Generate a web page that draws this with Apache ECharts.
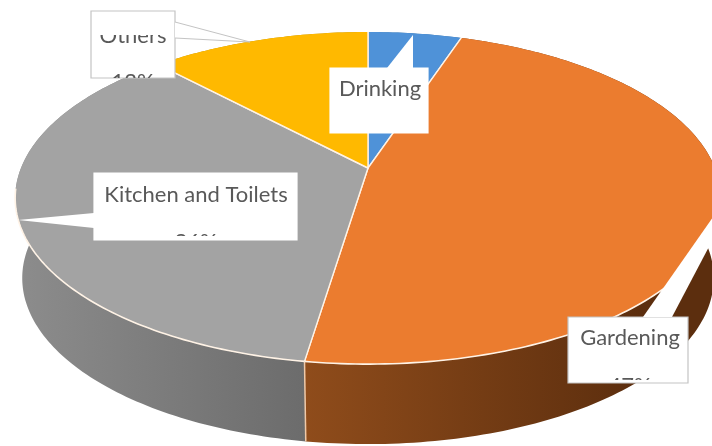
<!DOCTYPE html>
<html>
<head>
<meta charset="utf-8">
<style>html,body{margin:0;padding:0;background:#fff}#chart{width:712px;height:446px}</style>
<script src="https://cdn.jsdelivr.net/npm/echarts@6/dist/echarts.min.js"></script>
</head>
<body>
<div id="chart"></div>
<script>
// Household water use, clockwise from twelve o'clock.
const categories = ['Drinking', 'Gardening', 'Kitchen and Toilets', 'Others'];
const shares = [5.1, 47.3, 35.6, 12];

const topColors = ['#4f92d8', '#eb7c2f', '#a3a3a3', '#ffb900'];
const wallStops = [
  ['#3f76a8', '#3f76a8'],
  ['#8f4c1b', '#5c2e0e'],
  ['#8c8c8c', '#6c6c6c'],
  ['#b98c00', '#b98c00']
];
const wallRange = [
  [368, 470],
  [305, 640],
  [20, 305],
  [170, 370]
];

// Callout boxes: rectangle, pointer base on the rectangle, pointer tip, text rows.
// A text row is [centre x, centre y, visible top, visible bottom].
const callouts = [
  { box: [330, 68, 98, 65], base: [[387, 68], [413, 68]], tip: [413, 35], border: false, edge: false,
    name: [380, 89, 68, 133], value: null },
  { box: [568, 317, 120, 66], base: [[643, 317], [672, 317]], tip: [760, 150], border: true, edge: false,
    name: [630, 338, 317, 383], value: [630, 386, 378, 380] },
  { box: [94, 173, 203, 67], base: [[94, 213], [94, 228]], tip: [18, 220], border: false, edge: false,
    name: [196, 195, 173, 240], value: [196, 242, 234, 236] },
  { box: [91, 11, 84, 67], base: [[175, 22], [175, 38]], tip: [250, 42], border: true, edge: true,
    name: [133, 36, 35, 78], value: [133, 82, 74, 78] }
];

// Tilted disc: unit circle seen through a perspective divide, hub off the ellipse centre.
const disc = { cx: 368, hubY: 168, rx: 347, ry: 160.6, k: 0.181, depth: 80, baseScale: 0.98 };
const TAU = Math.PI * 2;
const rimLight = '#fff3e6';

function rimPoint(turn, lower) {
  const a = turn * TAU;
  const u = Math.sin(a), v = -Math.cos(a);
  const w = 1 - disc.k * v;
  const sx = lower ? disc.baseScale : 1;
  return [disc.cx + disc.rx * sx * u / w, disc.hubY + disc.ry * v / w + (lower ? disc.depth : 0)];
}
function arc(from, to, lower) {
  const n = Math.max(2, Math.ceil((to - from) * 360));
  const pts = [];
  for (let i = 0; i <= n; i++) pts.push(rimPoint(from + (to - from) * i / n, lower));
  return pts;
}
function sliceTurns(index, value) {
  const total = shares.reduce((s, x) => s + x, 0);
  const before = shares.slice(0, index).reduce((s, x) => s + x, 0);
  return [before / total, (before + value) / total];
}

function renderWall(params, api) {
  const i = params.dataIndex;
  const [from, to] = sliceTurns(i, api.value(0));
  const upper = arc(from, to, false);
  const lower = arc(from, to, true).reverse();
  return {
    type: 'polygon',
    shape: { points: upper.concat(lower) },
    style: {
      fill: {
        type: 'linear', global: true,
        x: wallRange[i][0], y: 0, x2: wallRange[i][1], y2: 0,
        colorStops: [{ offset: 0, color: wallStops[i][0] }, { offset: 1, color: wallStops[i][1] }]
      }
    }
  };
}
function renderSeam(params, api) {
  // Cream line where the two front wall segments meet.
  const i = params.dataIndex;
  const [, to] = sliceTurns(i, api.value(0));
  const a = rimPoint(to, false), b = rimPoint(to, true);
  if (categories[i] !== 'Gardening') return null;
  return {
    type: 'line',
    shape: { x1: a[0], y1: a[1], x2: b[0], y2: b[1] },
    style: { stroke: '#f0c9a8', lineWidth: 1.5 }
  };
}
function renderTop(params, api) {
  const i = params.dataIndex;
  const [from, to] = sliceTurns(i, api.value(0));
  const hub = [disc.cx, disc.hubY];
  const rim = arc(from, to, false);
  // Only the near half of the rim catches the light.
  const frontFrom = Math.max(from, 0.27), frontTo = Math.min(to, 0.73);
  const children = [
    { type: 'polygon', shape: { points: [hub].concat(rim) }, style: { fill: topColors[i] } },
    { type: 'polyline', shape: { points: [rim[rim.length - 1], hub, rim[0]] },
      style: { fill: null, stroke: rimLight, lineWidth: 1.4 } }
  ];
  if (frontTo > frontFrom) {
    children.push({ type: 'polyline', shape: { points: arc(frontFrom, frontTo, false) },
      style: { fill: null, stroke: rimLight, lineWidth: 1.6 } });
  }
  return { type: 'group', children };
}
function textRow(text, row) {
  return {
    type: 'text',
    style: {
      x: row[0], y: row[1], text, fill: '#595959',
      font: '22px Lato, "Open Sans", sans-serif',
      align: 'center', verticalAlign: 'middle'
    },
    clipPath: { type: 'rect', shape: { x: 0, y: row[2], width: 712, height: row[3] - row[2] } }
  };
}
function renderCallout(params, api) {
  const i = params.dataIndex;
  const c = callouts[i];
  const [x, y, w, h] = c.box;
  const line = c.border ? '#c4c4c4' : '#fff';
  const children = [
    { type: 'rect', shape: { x, y, width: w, height: h },
      style: { fill: '#fff', stroke: line, lineWidth: 1.2 } },
    { type: 'polygon', shape: { points: [c.base[0], c.tip, c.base[1]] },
      style: { fill: '#fff', stroke: null } }
  ];
  if (c.edge) {
    children.push({ type: 'polyline', shape: { points: [c.base[0], c.tip, c.base[1]] },
      style: { fill: null, stroke: line, lineWidth: 1 } });
  }
  children.push(textRow(categories[i], c.name));
  if (c.value) children.push(textRow(Math.round(api.value(0)) + '%', c.value));
  return { type: 'group', children };
}

const chart = echarts.init(document.getElementById('chart'));
chart.setOption({
  animation: false,
  backgroundColor: '#fff',
  series: [
    { type: 'custom', coordinateSystem: 'none', silent: true, z: 1, data: shares, renderItem: renderWall },
    { type: 'custom', coordinateSystem: 'none', silent: true, z: 2, data: shares, renderItem: renderSeam },
    { type: 'custom', coordinateSystem: 'none', silent: true, z: 3, data: shares, renderItem: renderTop },
    { type: 'custom', coordinateSystem: 'none', silent: true, z: 4, data: shares, renderItem: renderCallout }
  ]
});
</script>
</body>
</html>
